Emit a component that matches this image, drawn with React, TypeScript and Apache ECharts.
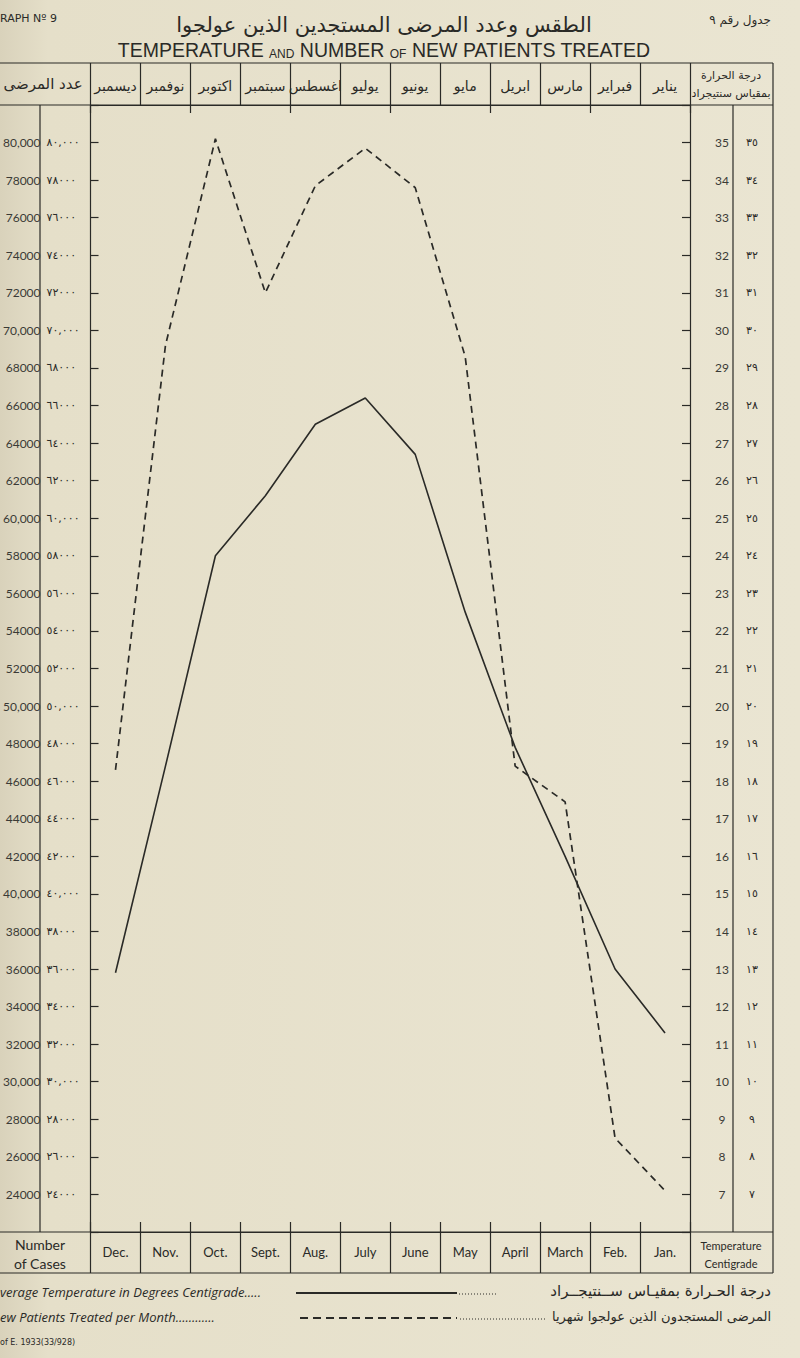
import React, { useEffect, useRef } from "react";
import * as echarts from "echarts";

// ---- data ----
const monthsEn = ["Dec.", "Nov.", "Oct.", "Sept.", "Aug.", "July", "June", "May", "April", "March", "Feb.", "Jan."];
const monthsAr = ["ديسمبر", "نوفمبر", "اكتوبر", "سبتمبر", "اغسطس", "يوليو", "يونيو", "مايو", "ابريل", "مارس", "فبراير", "يناير"];
const temperature = [12.9, 18.4, 24.0, 25.6, 27.5, 28.2, 26.7, 22.5, 18.9, 16.0, 13.0, 11.3];
const newPatients = [46600, 69200, 80200, 72000, 77700, 79700, 77600, 68600, 46800, 44900, 27000, 24200];
const casesMin = 24000;
const casesMax = 80000;
const casesStep = 2000;
const tempMin = 7;
const tempMax = 35;

const ink = "#2a2a27";
const arDigits = "٠١٢٣٤٥٦٧٨٩";
const toAr = (s: string) => s.replace(/[0-9]/g, (d) => arDigits[+d]);

const casesEn = (v: number) => {
  if (v < casesMin || v > casesMax) return "";
  return v % 10000 === 0 ? `${v / 1000},000` : String(v);
};
const casesAr = (v: number) => {
  const s = casesEn(v);
  return s ? toAr(s) : "";
};
const tempEn = (v: number) => (v < tempMin || v > tempMax ? "" : String(v));
const tempAr = (v: number) => (v < tempMin || v > tempMax ? "" : toAr(String(v)));

export default function App() {
  const ref = useRef<HTMLDivElement>(null);
  useEffect(() => {
    if (!ref.current) return;
    const chart = echarts.init(ref.current, null, { renderer: "svg", width: 800, height: 1358 });
    const ls = { color: ink, width: 1.2 };
    const hLine = (y: number, x1: number, x2: number, w = 1.2) => ({
      type: "line",
      shape: { x1, y1: y, x2, y2: y },
      style: { stroke: ink, lineWidth: w },
      silent: true,
    });
    const vLine = (x: number, y1: number, y2: number, w = 1.2) => ({
      type: "line",
      shape: { x1: x, y1, x2: x, y2 },
      style: { stroke: ink, lineWidth: w },
      silent: true,
    });
    const txt = (x: number, y: number, text: string, o: any = {}) => ({
      type: "text",
      x,
      y,
      silent: true,
      style: {
        text,
        fill: ink,
        fontFamily: o.fontFamily || "Lato",
        fontSize: o.fontSize || 12,
        fontStyle: o.fontStyle || "normal",
        fontWeight: o.fontWeight || "normal",
        align: o.align || "left",
        verticalAlign: "middle",
        rich: o.rich,
      },
    });

    const option: any = {
      animation: false,
      backgroundColor: {
        type: "linear",
        x: 0,
        y: 0,
        x2: 1,
        y2: 0,
        colorStops: [
          { offset: 0, color: "#d9d2bb" },
          { offset: 0.06, color: "#e5dfc9" },
          { offset: 1, color: "#eae5d2" },
        ],
      },
      grid: { left: 87, right: 110, top: 105, bottom: 126, containLabel: false },
      xAxis: [
        {
          type: "category",
          data: monthsEn,
          position: "bottom",
          boundaryGap: true,
          axisLine: { show: true, lineStyle: ls },
          axisTick: { show: true, inside: false, length: 41, lineStyle: ls },
          axisLabel: { interval: 0, margin: 13, fontFamily: "Lato", fontSize: 13, color: ink },
          splitLine: { show: false },
        },
        {
          type: "category",
          data: monthsEn,
          position: "bottom",
          boundaryGap: true,
          axisLine: { show: false },
          axisTick: { show: true, inside: true, length: 10, lineStyle: ls },
          axisLabel: { show: false },
          splitLine: { show: false },
        },
        {
          type: "category",
          data: monthsAr,
          position: "top",
          boundaryGap: true,
          axisLine: { show: true, lineStyle: ls },
          axisTick: { show: true, inside: false, length: 42, lineStyle: ls },
          axisLabel: { interval: 0, margin: 12, fontFamily: "DejaVu Sans", fontSize: 14, color: ink },
          splitLine: { show: false },
        },
        {
          type: "category",
          data: monthsAr,
          position: "top",
          boundaryGap: true,
          axisLine: { show: false },
          axisTick: { show: true, inside: true, length: 8, lineStyle: ls },
          axisLabel: { show: false },
          splitLine: { show: false },
        },
      ],
      yAxis: [
        {
          type: "value",
          position: "left",
          min: casesMin - casesStep,
          max: casesMax + casesStep,
          interval: casesStep,
          axisLine: { show: true, lineStyle: ls },
          axisTick: { show: true, inside: true, length: 8, lineStyle: ls },
          axisLabel: { margin: 50, align: "right", formatter: casesEn, fontFamily: "Lato", fontSize: 12, color: "#3a3a36" },
          splitLine: { show: false },
        },
        {
          type: "value",
          position: "left",
          min: casesMin - casesStep,
          max: casesMax + casesStep,
          interval: casesStep,
          axisLine: { show: false },
          axisTick: { show: false },
          axisLabel: { margin: 44, align: "left", formatter: casesAr, fontFamily: "DejaVu Sans", fontSize: 11, color: ink },
          splitLine: { show: false },
        },
        {
          type: "value",
          position: "right",
          min: tempMin - 1,
          max: tempMax + 1,
          interval: 1,
          axisLine: { show: true, lineStyle: ls },
          axisTick: { show: true, inside: true, length: 8, lineStyle: ls },
          axisLabel: { margin: 32, align: "center", formatter: tempEn, fontFamily: "Lato", fontSize: 12, color: "#3a3a36" },
          splitLine: { show: false },
        },
        {
          type: "value",
          position: "right",
          min: tempMin - 1,
          max: tempMax + 1,
          interval: 1,
          axisLine: { show: false },
          axisTick: { show: false },
          axisLabel: { margin: 62, align: "center", formatter: tempAr, fontFamily: "DejaVu Sans", fontSize: 11, color: ink },
          splitLine: { show: false },
        },
      ],
      series: [
        {
          name: "Average Temperature",
          type: "line",
          xAxisIndex: 0,
          yAxisIndex: 2,
          data: temperature,
          symbol: "none",
          lineStyle: { color: ink, width: 1.6, type: "solid" },
          z: 5,
        },
        {
          name: "New Patients",
          type: "line",
          xAxisIndex: 0,
          yAxisIndex: 0,
          data: newPatients,
          symbol: "none",
          lineStyle: { color: ink, width: 1.7, type: [7, 5] },
          z: 4,
        },
      ],
      graphic: [
        // header texts
        txt(0, 18, "RAPH Nº 9", { fontSize: 11, fontFamily: "DejaVu Sans" }),
        txt(771, 20, "جدول رقم ٩", { fontSize: 12, fontFamily: "DejaVu Sans", align: "right" }),
        txt(384, 25, "الطقس وعدد المرضى المستجدين الذين عولجوا", { fontSize: 21, fontFamily: "DejaVu Sans", align: "center" }),
        txt(384, 50, "{b|TEMPERATURE }{s|AND}{b| NUMBER }{s|OF}{b| NEW PATIENTS TREATED}", {
          align: "center",
          rich: {
            b: { fontSize: 19.5, fontFamily: "Liberation Sans", fill: ink, verticalAlign: "bottom" },
            s: { fontSize: 12, fontFamily: "Liberation Sans", fill: ink, verticalAlign: "bottom" },
          },
        }),
        // table borders
        hLine(63, 0, 773),
        hLine(105, 0, 773),
        hLine(1232, 0, 773),
        hLine(1273, 0, 773),
        vLine(40, 105, 1232),
        vLine(733, 105, 1232),
        vLine(773, 63, 1273),
        // header cells
        txt(43, 84, "عدد المرضى", { fontSize: 15, fontFamily: "DejaVu Sans", align: "center" }),
        txt(731, 75, "درجة الحرارة", { fontSize: 11, fontFamily: "DejaVu Sans", align: "center" }),
        txt(731, 93, "بمقياس سنتيجراد", { fontSize: 11, fontFamily: "DejaVu Sans", align: "center" }),
        txt(40, 1244, "Number", { fontSize: 14, align: "center" }),
        txt(40, 1263, "of Cases", { fontSize: 14, align: "center" }),
        txt(731, 1245, "Temperature", { fontSize: 11, align: "center" }),
        txt(731, 1263, "Centigrade", { fontSize: 11, align: "center" }),
        // footer legend
        txt(0, 1292, "verage Temperature in Degrees Centigrade.....", { fontSize: 13, fontFamily: "Open Sans", fontStyle: "italic" }),
        hLine(1293, 296, 457, 2.2),
        {
          type: "line",
          shape: { x1: 459, y1: 1294, x2: 498, y2: 1294 },
          style: { stroke: ink, lineWidth: 1, lineDash: [1, 2] },
          silent: true,
        },
        txt(771, 1291, "درجة الحـرارة بمقيـاس ســنتيجــراد", { fontSize: 15, fontFamily: "DejaVu Sans", align: "right" }),
        txt(0, 1317, "ew Patients Treated per Month............", { fontSize: 13, fontFamily: "Open Sans", fontStyle: "italic" }),
        {
          type: "line",
          shape: { x1: 300, y1: 1318, x2: 457, y2: 1318 },
          style: { stroke: ink, lineWidth: 1.8, lineDash: [8, 5] },
          silent: true,
        },
        {
          type: "line",
          shape: { x1: 460, y1: 1319, x2: 546, y2: 1319 },
          style: { stroke: ink, lineWidth: 1, lineDash: [1, 2] },
          silent: true,
        },
        txt(771, 1316, "المرضى المستجدون الذين عولجوا شهريا", { fontSize: 13, fontFamily: "DejaVu Sans", align: "right" }),
        txt(0, 1342, "of E. 1933(33/928)", { fontSize: 8, fontFamily: "DejaVu Sans" }),
      ],
    };
    chart.setOption(option);
    return () => chart.dispose();
  }, []);
  return <div ref={ref} style={{ position: "absolute", left: 0, top: 0, width: 800, height: 1358 }} />;
}
